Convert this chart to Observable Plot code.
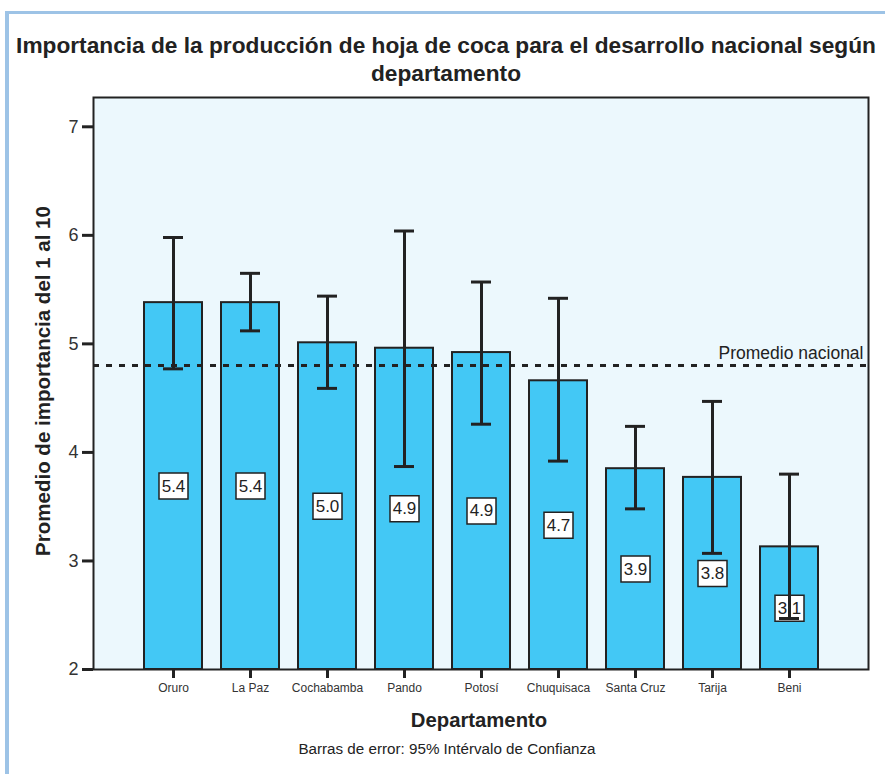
<!DOCTYPE html>
<html>
<head>
<meta charset="utf-8">
<script src="https://cdn.jsdelivr.net/npm/d3@7"></script>
<script src="https://cdn.jsdelivr.net/npm/@observablehq/plot@0.6"></script>
<style>
  html, body { margin: 0; padding: 0; background: #fff; }
  body { width: 885px; height: 774px; position: relative; overflow: hidden;
         font-family: "Liberation Sans", Arial, Helvetica, sans-serif; color: #222; }
  #frame { position: absolute; left: 5px; top: 11px; right: -10px; bottom: -10px;
           border-top: 3px solid #9dc3e6; border-left: 4px solid #9dc3e6; }
  #title { position: absolute; left: 7px; width: 878px; top: 31px; text-align: center;
           font-size: 22.7px; font-weight: bold; line-height: 28px; color: #222; white-space: nowrap; }
  #chart { position: absolute; left: 0; top: 80px; }
  #ylab { position: absolute; left: 43px; top: 381px; transform: translate(-50%, -50%) rotate(-90deg);
          white-space: nowrap; font-size: 20.5px; font-weight: bold; color: #222; }
  #xlab { position: absolute; left: 479px; top: 720px; transform: translate(-50%, -50%);
          white-space: nowrap; font-size: 20.3px; font-weight: bold; color: #222; }
  #caption { position: absolute; left: 447px; top: 748px; transform: translate(-50%, -50%);
          white-space: nowrap; font-size: 15.2px; color: #222; }
</style>
</head>
<body>
<div id="frame"></div>
<div id="title">Importancia de la producción de hoja de coca para el desarrollo nacional según<br>departamento</div>
<div id="chart"></div>
<div id="ylab">Promedio de importancia del 1 al 10</div>
<div id="xlab">Departamento</div>
<div id="caption">Barras de error: 95% Intérvalo de Confianza</div>
<script>
const departamentos = ["Oruro","La Paz","Cochabamba","Pando","Potosí","Chuquisaca","Santa Cruz","Tarija","Beni"];
const promedios   = [5.38, 5.38, 5.01, 4.96, 4.92, 4.66, 3.85, 3.77, 3.13];
const icInferior  = [4.77, 5.12, 4.59, 3.87, 4.26, 3.92, 3.48, 3.07, 2.47];
const icSuperior  = [5.98, 5.65, 5.44, 6.04, 5.57, 5.42, 4.24, 4.47, 3.80];
const etiquetas   = ["5.4","5.4","5.0","4.9","4.9","4.7","3.9","3.8","3.1"];
const promedioNacional = 4.80;
const yTicks = [2, 3, 4, 5, 6, 7];

const data = departamentos.map((d, i) => ({
  dept: d, mean: promedios[i], lo: icInferior[i], hi: icSuperior[i], label: etiquetas[i]
}));

const boxSymbol = {
  draw(ctx) {
    ctx.moveTo(-14.5, -13); ctx.lineTo(14.5, -13); ctx.lineTo(14.5, 13); ctx.lineTo(-14.5, 13); ctx.closePath();
  }
};

const ink = "#222";
const chart = Plot.plot({
  width: 885,
  height: 670,
  marginTop: 17,
  marginLeft: 93,
  marginRight: 17,
  marginBottom: 81,
  style: { fontFamily: '"Liberation Sans", Arial, sans-serif', color: "#333", background: "transparent" },
  x: { type: "band", domain: departamentos, paddingInner: 0.25, paddingOuter: 0.64, label: null },
  y: { domain: [2, 7.27], label: null },
  marks: [
    Plot.frame({ fill: "#ecf8fd", stroke: "none" }),
    Plot.barY(data, { x: "dept", y1: 2, y2: "mean", fill: "#43c8f5", stroke: ink, strokeWidth: 2 }),
    Plot.ruleY([promedioNacional], { stroke: ink, strokeWidth: 3, strokeDasharray: "6,7" }),
    Plot.text([promedioNacional], { y: d => d, text: () => "Promedio nacional", frameAnchor: "right",
      textAnchor: "end", dx: -5, dy: -12, fontSize: 17.5, fill: ink }),
    Plot.dot(data, { x: "dept", y: d => (2 + d.mean) / 2, symbol: boxSymbol, r: 5, fill: "white", stroke: ink, strokeWidth: 1.5 }),
    Plot.text(data, { x: "dept", y: d => (2 + d.mean) / 2, text: "label", fontSize: 17, fill: ink }),
    Plot.ruleX(data, { x: "dept", y1: "lo", y2: "hi", stroke: ink, strokeWidth: 3 }),
    Plot.tickY(data, { x: "dept", y: "lo", insetLeft: 19, insetRight: 19, stroke: ink, strokeWidth: 3 }),
    Plot.tickY(data, { x: "dept", y: "hi", insetLeft: 19, insetRight: 19, stroke: ink, strokeWidth: 3 }),
    Plot.frame({ stroke: ink, strokeWidth: 2 }),
    Plot.axisY({ ticks: yTicks, tickFormat: "d", tickSize: 11, tickPadding: 4, stroke: ink, strokeWidth: 3, fontSize: 18, label: null }),
    Plot.axisX({ tickSize: 9, tickPadding: 5, stroke: ink, strokeWidth: 3, fontSize: 12, label: null })
  ]
});
document.getElementById("chart").appendChild(chart);
</script>
</body>
</html>
